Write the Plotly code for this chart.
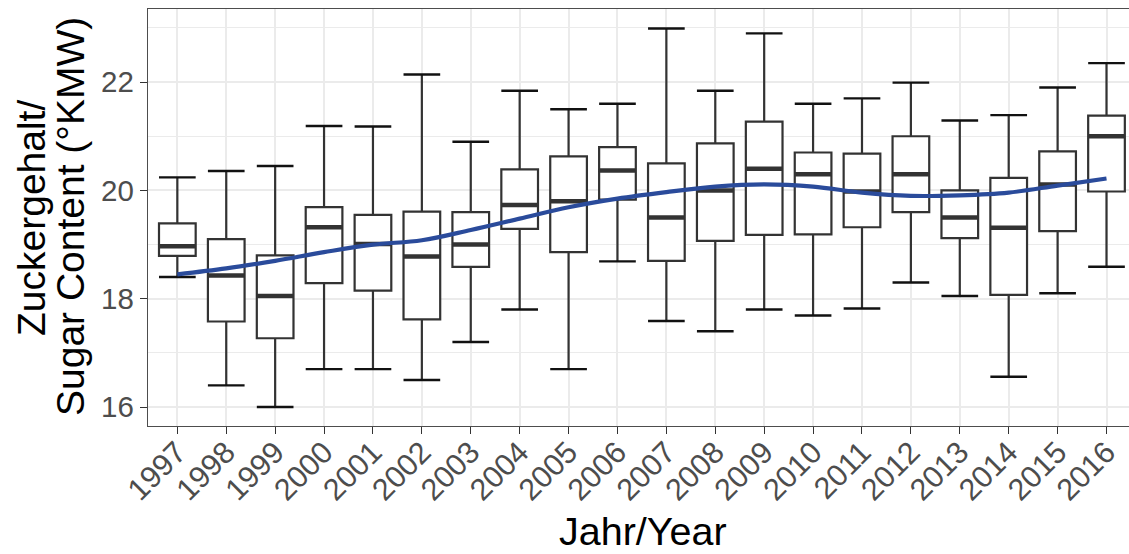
import plotly.graph_objects as go

years = [str(y) for y in range(1997, 2017)]
whisker_low = [18.40, 16.40, 16.00, 16.70, 16.70, 16.50, 17.20, 17.80, 16.70, 18.69,
               17.59, 17.40, 17.80, 17.69, 17.82, 18.30, 18.05, 16.56, 18.10, 18.59]
q1 = [18.79, 17.58, 17.27, 18.29, 18.15, 17.62, 18.59, 19.29, 18.86, 19.83,
      18.70, 19.07, 19.18, 19.19, 19.32, 19.60, 19.12, 18.07, 19.25, 19.98]
median = [18.97, 18.43, 18.05, 19.32, 19.01, 18.78, 19.00, 19.73, 19.80, 20.37,
          19.50, 20.00, 20.40, 20.30, 19.98, 20.30, 19.50, 19.31, 20.11, 21.00]
q3 = [19.39, 19.10, 18.80, 19.69, 19.55, 19.61, 19.60, 20.39, 20.63, 20.80,
      20.50, 20.87, 21.27, 20.70, 20.68, 21.00, 20.00, 20.23, 20.72, 21.38]
whisker_high = [20.24, 20.36, 20.45, 21.19, 21.18, 22.14, 20.90, 21.84, 21.50, 21.60,
                22.99, 21.84, 22.90, 21.60, 21.70, 21.99, 21.29, 21.39, 21.90, 22.35]
smooth = [18.45, 18.56, 18.70, 18.86, 19.00, 19.08, 19.27, 19.48, 19.69, 19.85,
          19.97, 20.07, 20.11, 20.07, 19.96, 19.90, 19.91, 19.96, 20.09, 20.22]

idx = list(range(len(years)))
BOX_W = 0.75

fig = go.Figure()
fig.add_trace(go.Box(
    x=idx, q1=q1, median=median, q3=q3,
    lowerfence=whisker_low, upperfence=whisker_high,
    width=BOX_W, whiskerwidth=0, fillcolor="white",
    line=dict(color="#333333", width=2.2), boxpoints=False,
    showlegend=False, hoverinfo="skip"))

# thick median lines
mx, my = [], []
for i, m in zip(idx, median):
    mx += [i - BOX_W / 2, i + BOX_W / 2, None]
    my += [m, m, None]
fig.add_trace(go.Scatter(x=mx, y=my, mode="lines",
                         line=dict(color="#333333", width=4.5),
                         showlegend=False, hoverinfo="skip"))

# whisker caps
cx, cy = [], []
for i, lo, hi in zip(idx, whisker_low, whisker_high):
    cx += [i - BOX_W / 2, i + BOX_W / 2, None, i - BOX_W / 2, i + BOX_W / 2, None]
    cy += [lo, lo, None, hi, hi, None]
fig.add_trace(go.Scatter(x=cx, y=cy, mode="lines",
                         line=dict(color="#111111", width=2.4),
                         showlegend=False, hoverinfo="skip"))

# smooth trend
fig.add_trace(go.Scatter(x=idx, y=smooth, mode="lines",
                         line=dict(color="#2A4B9B", width=4.2, shape="spline"),
                         showlegend=False, hoverinfo="skip"))

FONT = "Liberation Sans, Arial, sans-serif"
W, H = 1129, 554
# panel edges in page pixels
TOP, BOTTOM, LEFT, RIGHT = 9, 426, 148, 1129
PH = BOTTOM - TOP
PW = RIGHT - LEFT

def py(px):
    return (BOTTOM - px) / PH

def pxx(px):
    return (px - LEFT) / PW

fig.update_layout(
    width=W, height=H,
    margin=dict(l=LEFT, r=W - RIGHT, t=TOP, b=H - BOTTOM, pad=0),
    paper_bgcolor="white", plot_bgcolor="white",
    font=dict(family=FONT),
    xaxis=dict(
        range=[-0.6, 19.46], tickmode="array", tickvals=idx, ticktext=years,
        tickangle=-45, ticks="outside", ticklen=7, tickwidth=1.3, tickcolor="#333333",
        tickfont=dict(size=30.5, color="#4D4D4D", family=FONT),
        ticklabelstandoff=-12,
        showgrid=True, gridcolor="#EBEBEB", gridwidth=1.8,
        showline=True, mirror=True, linecolor="#4D4D4D", linewidth=1.3,
        zeroline=False, fixedrange=True, automargin=False),
    yaxis=dict(
        range=[15.65, 23.35], tickmode="linear", tick0=16, dtick=2,
        ticks="outside", ticklen=7, tickwidth=1.3, tickcolor="#333333",
        tickfont=dict(size=29.5, color="#4D4D4D", family=FONT),
        showgrid=True, gridcolor="#EBEBEB", gridwidth=1.8,
        minor=dict(dtick=1, tick0=16, showgrid=True, gridcolor="#EBEBEB", gridwidth=1.0),
        showline=True, linecolor="#4D4D4D", linewidth=1.3,
        zeroline=False, fixedrange=True, automargin=False),
    annotations=[
        dict(text="Jahr/Year", xref="paper", yref="paper",
             x=pxx(643), y=py(531), xanchor="center", yanchor="middle",
             showarrow=False, font=dict(size=39.5, color="black", family=FONT)),
        dict(text="Zuckergehalt/", xref="paper", yref="paper", textangle=-90,
             x=pxx(31), y=py(218), xanchor="center", yanchor="middle",
             showarrow=False, font=dict(size=39, color="black", family=FONT)),
        dict(text="Sugar Content (°KMW)", xref="paper", yref="paper", textangle=-90,
             x=pxx(70), y=py(217), xanchor="center", yanchor="middle",
             showarrow=False, font=dict(size=39, color="black", family=FONT)),
    ],
)

fig.write_html(
    "out.html",
    config={"displayModeBar": False},
    post_script="document.body.style.margin='0';document.body.style.overflow='hidden';")
